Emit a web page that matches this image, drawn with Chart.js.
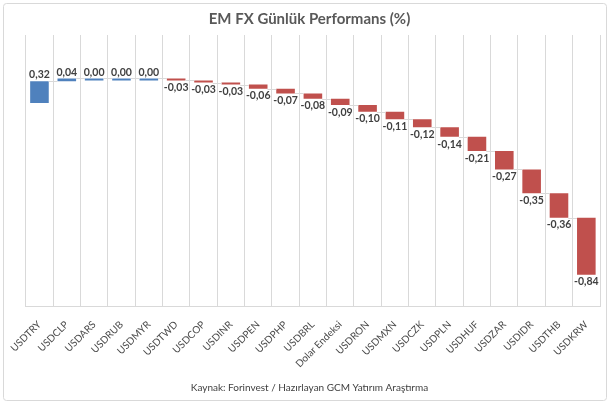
<!DOCTYPE html>
<html>
<head>
<meta charset="utf-8">
<script src="https://cdn.jsdelivr.net/npm/chart.js@4"></script>
<style>
  html, body { margin: 0; padding: 0; background: #fff; }
  #wrap { width: 612px; height: 408px; position: relative; }
</style>
</head>
<body>
<div id="wrap"><canvas id="myChart" width="612" height="408"></canvas></div>
<script>
// data
const categories = ['USDTRY', 'USDCLP', 'USDARS', 'USDRUB', 'USDMYR', 'USDTWD', 'USDCOP', 'USDINR',
  'USDPEN', 'USDPHP', 'USDBRL', 'Dolar Endeksi', 'USDRON', 'USDMXN', 'USDCZK', 'USDPLN',
  'USDHUF', 'USDZAR', 'USDIDR', 'USDTHB', 'USDKRW'];
const changes = [0.32, 0.04, 0.00, 0.00, 0.00, -0.03, -0.03, -0.03, -0.06, -0.07, -0.08, -0.09,
  -0.10, -0.11, -0.12, -0.14, -0.21, -0.27, -0.35, -0.36, -0.84];
const titleText = 'EM FX Günlük Performans (%)';
const sourceText = 'Kaynak: Forinvest / Hazırlayan GCM Yatırım Araştırma';

// waterfall: each bar starts where the previous one ended
let running = 0;
const floats = changes.map(v => {
  const start = running;
  running = running + v;
  return [start, running];
});

const fontFam = 'Lato, "Open Sans", sans-serif';
const fmt = v => v.toFixed(2).replace('.', ',');

const frame = {
  id: 'frame',
  beforeDraw(chart) {
    const c = chart.ctx;
    c.save();
    c.fillStyle = '#fff';
    c.fillRect(0, 0, chart.width, chart.height);
    c.strokeStyle = '#d9d9d9';
    c.lineWidth = 1;
    c.beginPath();
    c.roundRect(3.5, 3.5, 603, 397, 3);
    c.stroke();
    c.restore();
  }
};

// connector lines + value labels
const waterfallExtras = {
  id: 'waterfallExtras',
  afterDatasetsDraw(chart) {
    const c = chart.ctx;
    const meta = chart.getDatasetMeta(0);
    const y = chart.scales.y;
    c.save();
    c.strokeStyle = '#d9d9d9';
    c.lineWidth = 1;
    for (let i = 0; i < meta.data.length - 1; i++) {
      const a = meta.data[i], b = meta.data[i + 1];
      const py = Math.round(y.getPixelForValue(floats[i][1])) + 0.5;
      c.beginPath();
      c.moveTo(a.x + a.width / 2, py);
      c.lineTo(b.x - b.width / 2, py);
      c.stroke();
    }
    c.fillStyle = '#404040';
    c.font = 'bold 10.5px ' + fontFam;
    c.textAlign = 'center';
    meta.data.forEach((bar, i) => {
      const v = changes[i];
      const top = Math.min(bar.y, bar.base);
      const bottom = Math.max(bar.y, bar.base);
      if (v >= 0) {
        c.textBaseline = 'bottom';
        c.fillText(fmt(v), bar.x, top - 1);
      } else {
        c.textBaseline = 'top';
        c.fillText(fmt(v), bar.x, bottom + 2);
      }
    });
    c.restore();
  }
};

const ctx = document.getElementById('myChart');
new Chart(ctx, {
  type: 'bar',
  data: {
    labels: categories,
    datasets: [{
      data: floats,
      backgroundColor: changes.map(v => v >= 0 ? '#4f81bd' : '#c0504d'),
      borderWidth: 0,
      barPercentage: 0.68,
      categoryPercentage: 1,
      minBarLength: 2
    }]
  },
  options: {
    responsive: false,
    animation: false,
    devicePixelRatio: 1,
    layout: { padding: { left: 19, right: 12, top: 0, bottom: 0 } },
    plugins: {
      legend: { display: false },
      tooltip: { enabled: false },
      title: {
        display: true,
        text: titleText,
        color: '#595959',
        font: { family: fontFam, size: 15, weight: 'bold' },
        padding: { top: 10.5, bottom: 6.5 }
      },
      subtitle: {
        display: true,
        position: 'bottom',
        text: sourceText,
        color: '#404040',
        font: { family: fontFam, size: 10 },
        padding: { top: 0, bottom: 14 }
      }
    },
    scales: {
      x: {
        grid: { color: '#d9d9d9', drawTicks: false, offset: true },
        border: { color: '#d9d9d9' },
        ticks: {
          color: '#4a4a4a',
          font: { family: fontFam, size: 10 },
          minRotation: 45,
          maxRotation: 45,
          padding: 12,
          autoSkip: false
        }
      },
      y: { display: false, min: -3, max: 1 }
    }
  },
  plugins: [frame, waterfallExtras]
});
</script>
</body>
</html>
